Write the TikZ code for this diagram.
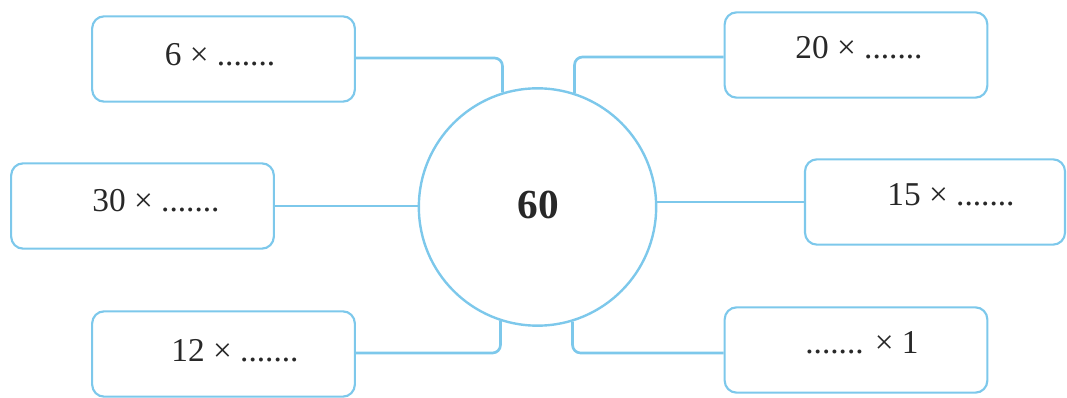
\documentclass[tikz,border=0pt]{standalone}
\usepackage{fontspec}
\setmainfont{Liberation Serif}
\definecolor{lineblue}{RGB}{125,200,235}
\definecolor{txt}{RGB}{40,40,40}
\begin{document}
\begin{tikzpicture}[x=0.75pt,y=-0.75pt,
  box/.style={draw=lineblue,line width=1.6pt,rounded corners=9pt,minimum width=197pt,minimum height=64pt,inner sep=0pt},
  conn/.style={draw=lineblue,line width=2pt,rounded corners=6pt},
  lbl/.style={anchor=base,inner sep=0pt,text=txt,font=\fontsize{25}{30}\selectfont},
  big/.style={anchor=base,inner sep=0pt,text=txt,font=\fontsize{31}{36}\selectfont\bfseries}]
\useasboundingbox (0,0) rectangle (1067,398);
\node[circle,draw=lineblue,line width=1.8pt,minimum size=178pt,inner sep=0pt] (c) at (537.5,207) {};
\node[box] (tl) at (223.5,59) {};
\node[box] (tr) at (856,55) {};
\node[box] (ml) at (142.5,206) {};
\node[box,minimum width=195pt] (mr) at (935,202) {};
\node[box] (bl) at (223.5,354) {};
\node[box] (br) at (856,350) {};
\node[lbl] (tlt) at (220,66) {6 × .......};
\node[lbl] (trt) at (859,59) {20 × .......};
\node[lbl] (mlt) at (156,212) {30 × .......};
\node[lbl] (mrt) at (951,206) {15 × .......};
\node[lbl] (blt) at (235,362) {12 × .......};
\node[lbl] (brt) at (862,354) {....... × 1};
\node[big] (ct) at (538,219) {60};
\draw[conn] ([yshift=0.75pt]tl.east) -| (c.107.4);
\draw[conn] ([yshift=-1.5pt]tr.west) -| (c.72.6);
\draw[conn] ([yshift=0.75pt]bl.east) -| (c.252.6);
\draw[conn] ([yshift=-2.25pt]br.west) -| (c.287.4);
\draw[conn] (ml.east) -- (ml.east -| c.west);
\draw[conn] (mr.west) -- (mr.west -| c.east);
\end{tikzpicture}
\end{document}
